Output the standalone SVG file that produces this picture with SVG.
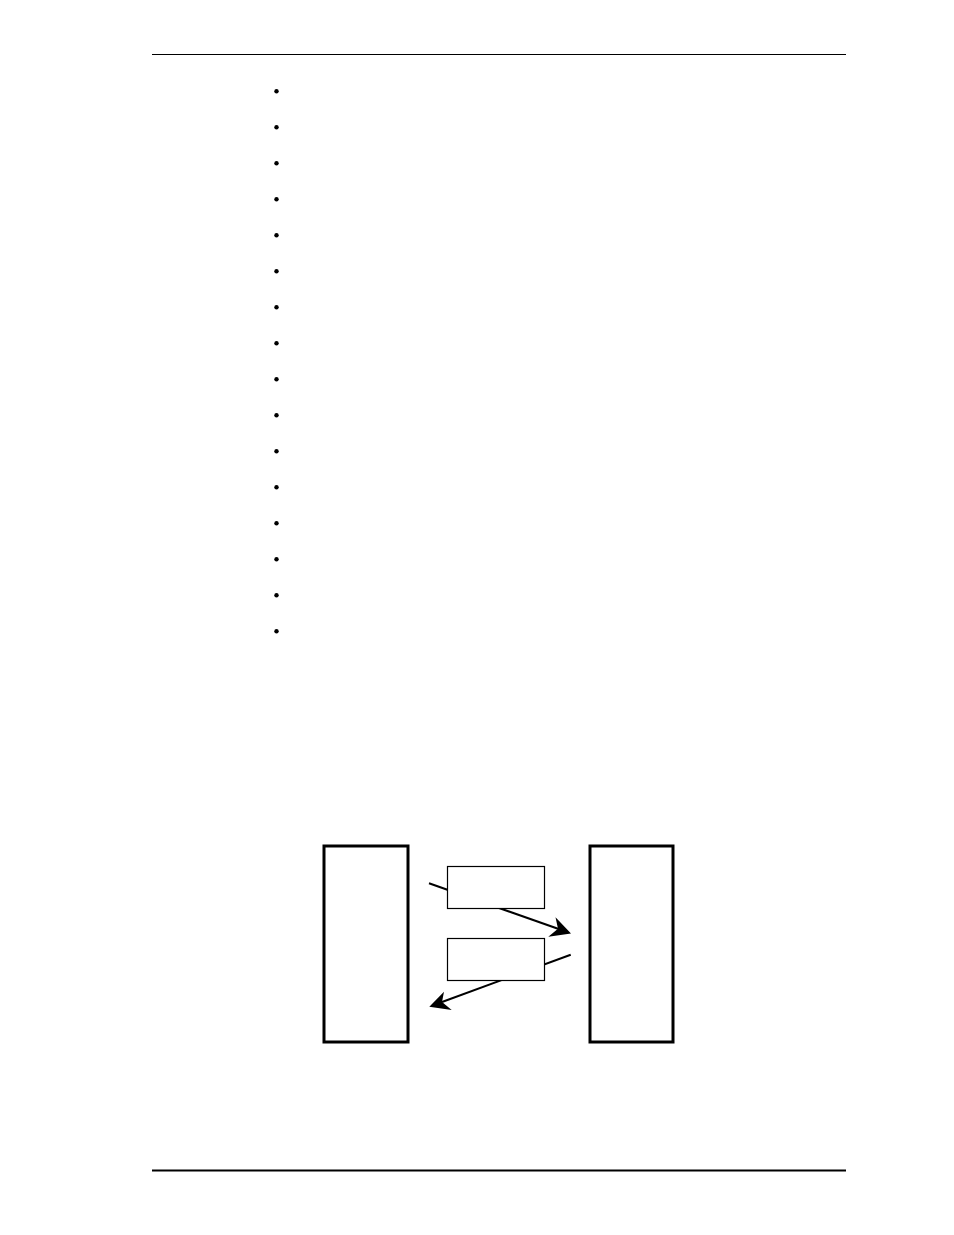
<svg xmlns="http://www.w3.org/2000/svg" width="954" height="1235" viewBox="0 0 954 1235">
<style>
.bullet{fill:#000}
.big{fill:#fff;stroke:#000;stroke-width:3}
.small{fill:#fff;stroke:#000;stroke-width:1.2}
.conn{stroke:#000;stroke-width:2;fill:none}
.head{fill:#000}
</style>
<rect width="954" height="1235" fill="#fff"/>
<line x1="152" y1="54.5" x2="846" y2="54.5" stroke="#000" stroke-width="1.2"/>
<line x1="152" y1="1170.5" x2="846" y2="1170.5" stroke="#000" stroke-width="2.2"/>
<g id="bullets">
<circle class="bullet" cx="276.5" cy="91.3" r="2.2"/>
<circle class="bullet" cx="276.5" cy="127.3" r="2.2"/>
<circle class="bullet" cx="276.5" cy="163.3" r="2.2"/>
<circle class="bullet" cx="276.5" cy="199.3" r="2.2"/>
<circle class="bullet" cx="276.5" cy="235.3" r="2.2"/>
<circle class="bullet" cx="276.5" cy="271.3" r="2.2"/>
<circle class="bullet" cx="276.5" cy="307.3" r="2.2"/>
<circle class="bullet" cx="276.5" cy="343.3" r="2.2"/>
<circle class="bullet" cx="276.5" cy="379.3" r="2.2"/>
<circle class="bullet" cx="276.5" cy="415.3" r="2.2"/>
<circle class="bullet" cx="276.5" cy="451.3" r="2.2"/>
<circle class="bullet" cx="276.5" cy="487.3" r="2.2"/>
<circle class="bullet" cx="276.5" cy="523.3" r="2.2"/>
<circle class="bullet" cx="276.5" cy="559.3" r="2.2"/>
<circle class="bullet" cx="276.5" cy="595.3" r="2.2"/>
<circle class="bullet" cx="276.5" cy="631.3" r="2.2"/>
</g>
<g id="connectors">
<line class="conn" x1="429" y1="883.3" x2="558" y2="928.8"/>
<path class="head" d="M571,933.5 L555.5,917.3 L558,928.8 L548.3,936.7 Z"/>
<line class="conn" x1="570.7" y1="954.7" x2="442" y2="1002"/>
<path class="head" d="M429.3,1006.7 L444,991.7 L442,1002 L451.7,1010 Z"/>
</g>
<g id="node-left"><rect class="big" x="324" y="846" width="84" height="196"/></g>
<g id="node-right"><rect class="big" x="590" y="846" width="83" height="196"/></g>
<g id="node-top"><rect class="small" x="447.5" y="866.5" width="97" height="42"/></g>
<g id="node-bottom"><rect class="small" x="447.5" y="938.5" width="97" height="42"/></g>
</svg>
